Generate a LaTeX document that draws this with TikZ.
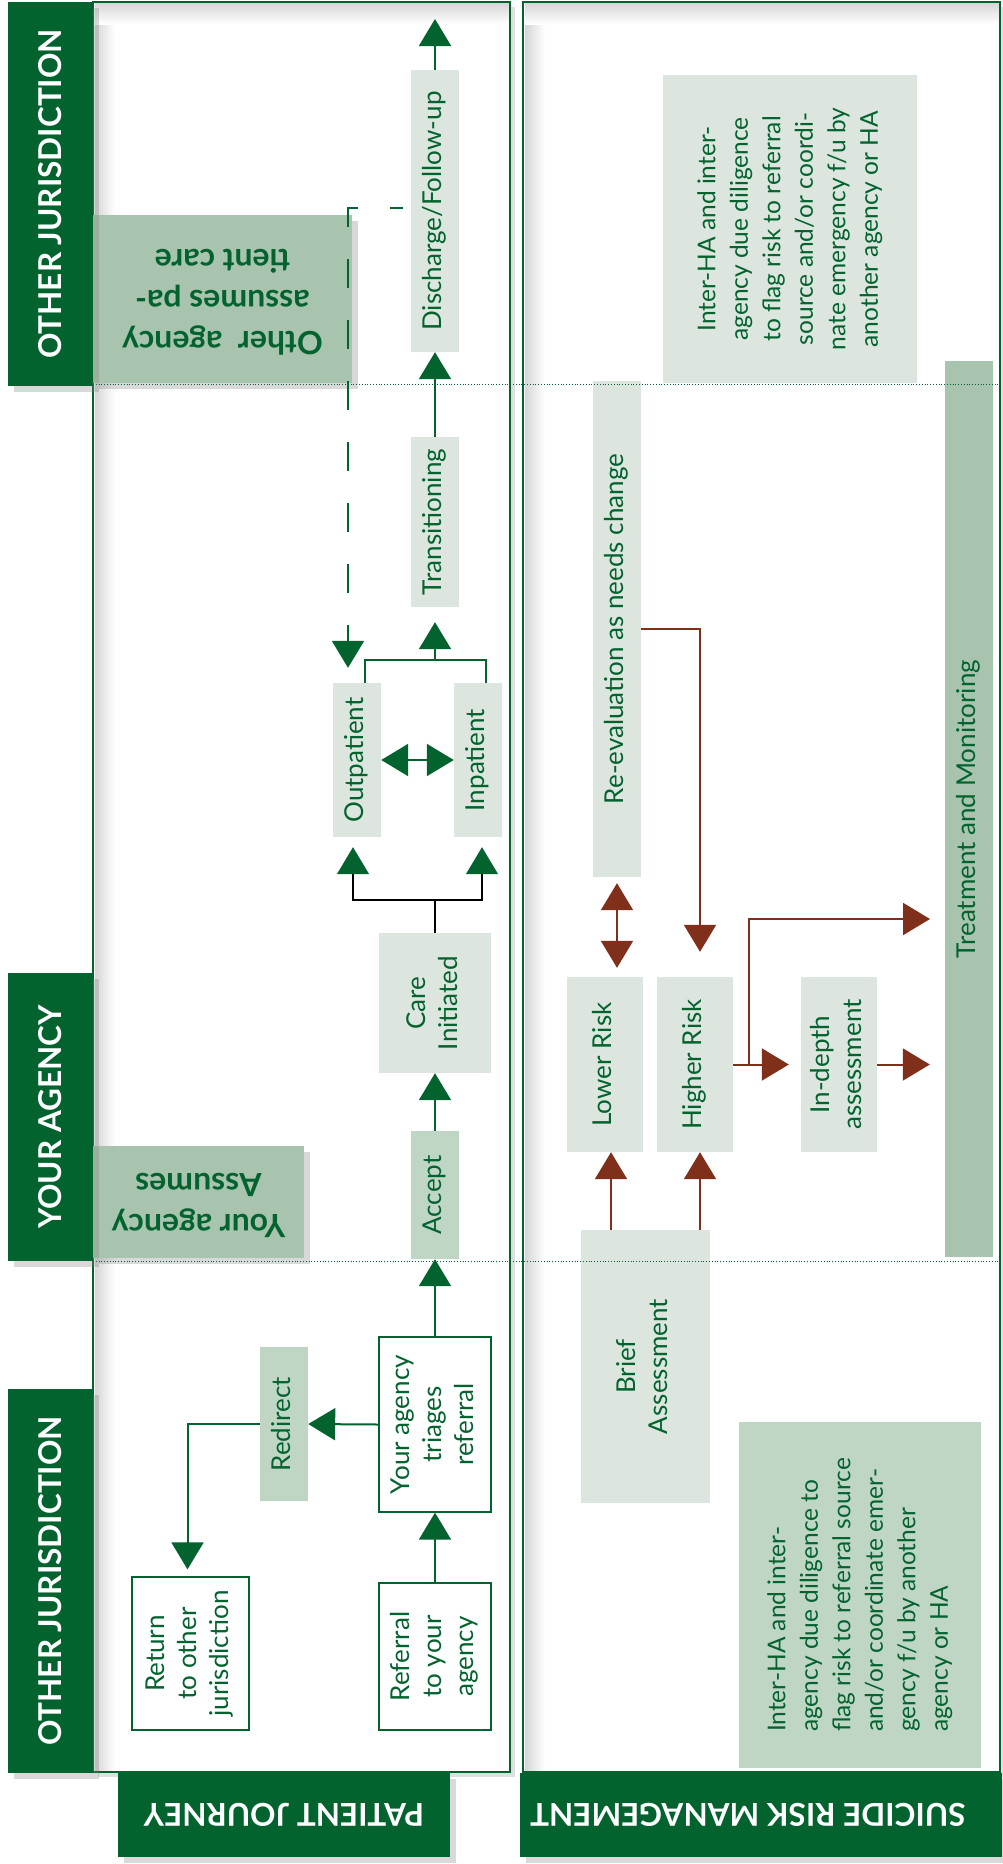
\documentclass[tikz,border=0pt]{standalone}
\usepackage{fontspec}
\setmainfont{Lato}
\usepackage{graphicx}
\usetikzlibrary{arrows.meta,shadows}
\definecolor{dgreen}{HTML}{03632F}
\definecolor{lbox}{HTML}{DCE6DE}
\definecolor{mbox}{HTML}{C0D6C5}
\definecolor{dbox}{HTML}{A8C4AE}
\definecolor{rust}{HTML}{7F2F1A}
\newcommand\vtxt[1]{\rotatebox{90}{\begin{tabular}{@{}c@{}}#1\end{tabular}}}
\newcommand\vtxtl[1]{\rotatebox{90}{\begin{tabular}{@{}l@{}}#1\end{tabular}}}
\newcommand\mainsz{\fontsize{26}{32}\selectfont}
\newcommand\notesz{\fontsize{24.5}{32.5}\selectfont}
\newcommand\headsz{\fontsize{31.5}{36}\selectfont\bfseries}
\newcommand\asmsz{\fontsize{32}{41}\selectfont\bfseries}
\tikzset{
  box/.style={rectangle, inner sep=0pt, align=center, text=dgreen, font=\mainsz},
  lightbox/.style={box, fill=lbox},
  midbox/.style={box, fill=mbox},
  darkbox/.style={box, fill=dbox},
  whitebox/.style={box, fill=white, draw=dgreen, line width=1.3pt},
  assume/.style={box, fill=dbox, font=\asmsz, drop shadow={opacity=0.3, shadow xshift=6pt, shadow yshift=-6pt}},
  band/.style={rectangle, inner sep=0pt, fill=dgreen, text=white, font=\headsz, drop shadow={opacity=0.3, shadow xshift=6pt, shadow yshift=-6pt}},
  panel/.style={draw=dgreen, line width=2pt, fill=white, drop shadow={opacity=0.25, shadow xshift=5pt, shadow yshift=-5pt}},
  gline/.style={draw=dgreen, line width=2pt},
  garr/.style={gline, -{Triangle[width=32pt,length=27pt]}},
  gdbl/.style={gline, {Triangle[width=32pt,length=27pt]}-{Triangle[width=32pt,length=27pt]}},
  gdash/.style={gline, dash pattern=on 29pt off 32pt, dash phase=16pt, -{Triangle[width=32pt,length=27pt]}},
  blkarr/.style={draw=black, line width=1.4pt, -{Triangle[width=32pt,length=27pt,color=dgreen]}},
  blkline/.style={draw=black, line width=1.4pt},
  rline/.style={draw=rust, line width=2pt},
  rarr/.style={rline, -{Triangle[width=32pt,length=27pt]}},
  rdbl/.style={rline, {Triangle[width=32pt,length=27pt]}-{Triangle[width=32pt,length=27pt]}},
  divider/.style={draw=dgreen, line width=0.8pt, dotted}
}
\begin{document}
\begin{tikzpicture}[x=1pt,y=-1pt]
\useasboundingbox (0,0) rectangle (1002,1864);
% panels
\path[panel] (93,2) rectangle (510,1772);
\path[panel] (523,2) rectangle (1000,1772);
\shade[left color=black!16, right color=white] (95,3) rectangle (115,1771);
\shade[top color=black!16, bottom color=white] (95,3) rectangle (509,24);
\shade[left color=black!16, right color=white] (525,3) rectangle (545,1771);
\shade[top color=black!16, bottom color=white] (525,3) rectangle (999,24);
\draw[dgreen, line width=2pt] (93,2) rectangle (510,1772);
\draw[dgreen, line width=2.5pt] (523,2) rectangle (1000,1772);

% ---------- patient journey ----------
\node[lightbox, minimum width=48, minimum height=282] (disc) at (435,211) {\vtxt{Discharge/Follow-up}};
\node[lightbox, minimum width=48, minimum height=170] (trans) at (435,522) {\vtxt{Transitioning}};
\node[lightbox, minimum width=48, minimum height=154] (outp) at (357,760) {\vtxt{Outpatient}};
\node[lightbox, minimum width=48, minimum height=154] (inp) at (478,760) {\vtxt{Inpatient}};
\node[lightbox, minimum width=112, minimum height=140] (care) at (435,1003) {\vtxt{Care\\Initiated}};
\node[midbox, minimum width=48, minimum height=128] (acc) at (435,1195) {\vtxt{Accept}};
\node[whitebox, minimum width=112, minimum height=175] (tri) at (435,1424.5) {\vtxt{Your agency\\triages\\referral}};
\node[midbox, minimum width=48, minimum height=154] (redir) at (284,1424) {\vtxt{Redirect}};
\node[whitebox, minimum width=117, minimum height=153] (ret) at (190.5,1653.5) {\vtxt{Return\\to other\\jurisdiction}};
\node[whitebox, minimum width=112, minimum height=147] (ref) at (435,1656.5) {\vtxt{Referral\\to your\\agency}};

\node[assume, minimum width=259, minimum height=168] (oth) at (222.5,299) {\rotatebox{180}{\begin{tabular}{@{}c@{}}Other\ \ agency\\assumes pa-\\tient care\end{tabular}}};
\node[assume, minimum width=211, minimum height=112] (yas) at (198.5,1202) {\rotatebox{180}{\begin{tabular}{@{}c@{}}Your agency\\Assumes\end{tabular}}};

\coordinate (topend) at (435,19);
\coordinate (mg) at (435,660);

\draw[garr] (ref.north) -- (tri.south);
\draw[garr] (tri.north) -- (acc.south);
\draw[garr] (acc.north) -- (care.south);
\draw[blkline] (care.north) -- ++(0,-33) coordinate (sp);
\draw[blkarr] (sp) -| ([xshift=-4pt,yshift=-10pt]outp.south);
\draw[blkarr] (sp) -| ([xshift=4pt,yshift=-10pt]inp.south);
\draw[gdbl] (outp.east) -- (inp.west);
\draw[gline] ([xshift=8pt]outp.north) |- (mg) -| ([xshift=8pt]inp.north);
\draw[garr] (mg) -- ([yshift=-15pt]trans.south);
\draw[garr] (trans.north) -- (disc.south);
\draw[garr] (disc.north) -- (topend);
\draw[gdash] ([xshift=-8pt,yshift=3pt]disc.west) -| ([xshift=-9pt,yshift=15pt]outp.north);
\draw[garr] (tri.west) -- (redir.east);
\draw[garr] (redir.west) -| ([xshift=-3pt,yshift=7pt]ret.north);

% ---------- suicide risk management ----------
\node[lightbox, font=\notesz, minimum width=254, minimum height=308] (n1) at (790,229) {\vtxt{Inter-HA and inter-\\agency due diligence\\to flag risk to referral\\source and/or coordi-\\nate emergency f/u by\\another agency or HA}};
\node[darkbox, minimum width=48, minimum height=896] (treat) at (969,809) {\vtxt{Treatment and Monitoring}};
\node[lightbox, minimum width=48, minimum height=496] (reev) at (617,629) {\vtxt{Re-evaluation as needs change}};
\node[lightbox, minimum width=76, minimum height=175] (low) at (605,1064.5) {\vtxt{Lower Risk}};
\node[lightbox, minimum width=76, minimum height=175] (high) at (695,1064.5) {\vtxt{Higher Risk}};
\node[lightbox, minimum width=76, minimum height=175] (indep) at (839,1064.5) {\vtxt{In-depth\\assessment}};
\node[lightbox, minimum width=129, minimum height=273] (brief) at (645.5,1366.5) {\vtxt{Brief\\Assessment}};
\node[midbox, font=\notesz, minimum width=242, minimum height=346] (n2) at (860,1595) {\vtxtl{Inter-HA and inter-\\agency due diligence to\\flag risk to referral source\\and/or coordinate emer-\\gency f/u by another\\agency or HA}};

\coordinate (hb) at (749,1064.5);
\coordinate (tb) at (930,919);

\draw[rdbl, shorten <=6pt, shorten >=9pt] (reev.south) -- (reev.south |- low.north);
\draw[rarr] (reev.east) -| ([xshift=5pt,yshift=25pt]high.north);
\draw[rarr] ([xshift=6pt]low.south |- brief.north) -- ([xshift=6pt]low.south);
\draw[rarr] ([xshift=5pt]high.south |- brief.north) -- ([xshift=5pt]high.south);
\draw[rarr, shorten >=12pt] (high.east) -- (indep.west);
\draw[rarr, shorten >=15pt] (indep.east) -- (treat.west |- indep.east);
\draw[rarr] (hb) |- (tb);

% dividers
\draw[divider] (93,384) -- (1000,384);
\draw[divider] (93,1261) -- (1000,1261);

% bands
\node[band, minimum width=85, minimum height=384] (oj1) at (50.5,194) {\rotatebox{90}{OTHER JURISDICTION}};
\node[band, minimum width=85, minimum height=288] (ya) at (50.5,1117) {\rotatebox{90}{YOUR AGENCY}};
\node[band, minimum width=85, minimum height=384] (oj2) at (50.5,1581) {\rotatebox{90}{OTHER JURISDICTION}};
\node[band, minimum width=332, minimum height=84] (pj) at (284,1815) {\rotatebox{180}{PATIENT JOURNEY}};
\node[band, minimum width=482, minimum height=84] (srm) at (761,1815) {\rotatebox{180}{\hspace*{26pt}SUICIDE RISK MANAGEMENT}};
\end{tikzpicture}
\end{document}
